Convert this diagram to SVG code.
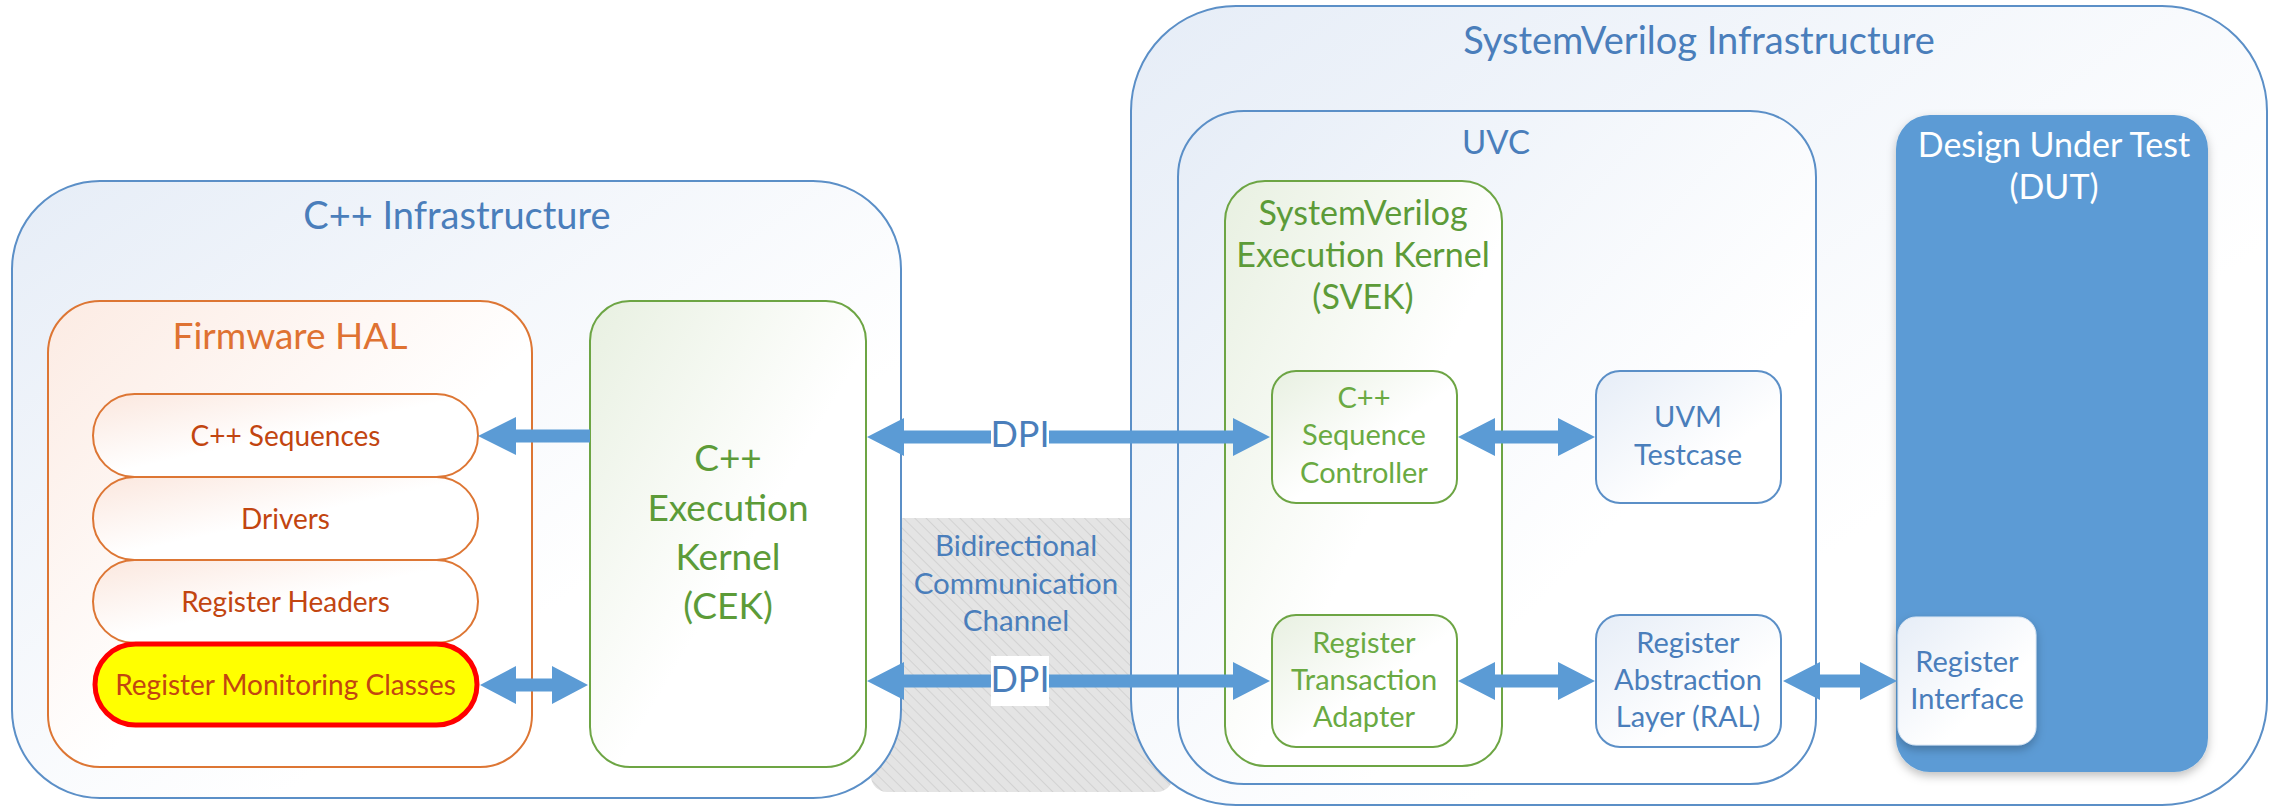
<svg xmlns="http://www.w3.org/2000/svg" width="2270" height="809" viewBox="0 0 2270 809">
<defs>
<linearGradient id="gBlue" x1="0" y1="0" x2="1" y2="1"><stop offset="0" stop-color="#E6EDF7"/><stop offset="0.65" stop-color="#FFFFFF"/></linearGradient>
<linearGradient id="gOrange" x1="0" y1="0" x2="1" y2="1"><stop offset="0" stop-color="#FCEBE3"/><stop offset="0.55" stop-color="#FFFFFF"/></linearGradient>
<linearGradient id="gGreen" x1="0" y1="0" x2="1" y2="1"><stop offset="0" stop-color="#E8F0E1"/><stop offset="0.55" stop-color="#FFFFFF"/></linearGradient>
<linearGradient id="gPill" x1="0" y1="0" x2="1" y2="1"><stop offset="0" stop-color="#FBE7DE"/><stop offset="0.5" stop-color="#FFFFFF"/></linearGradient>
<pattern id="hatch" width="8" height="8" patternUnits="userSpaceOnUse" patternTransform="rotate(-45)">
<rect width="8" height="8" fill="#E4E4E4"/><line x1="0" y1="0" x2="0" y2="8" stroke="#D2D2D2" stroke-width="2"/>
</pattern>
<filter id="shadow" x="-10%" y="-10%" width="130%" height="130%"><feDropShadow dx="0" dy="4" stdDeviation="5" flood-color="#000" flood-opacity="0.25"/></filter>
<style>
text{font-family:Lato,"Liberation Sans",sans-serif;text-anchor:middle}
.t-title{font-size:38px;fill:#4A7EBB}
.t-blue{fill:#4A7EBB}
.t-green{fill:#5C9B38}
.t-lgreen{fill:#6AAA42}
.t-orange{fill:#C24510}
.outer{fill:url(#gBlue);stroke:#5B8FC7;stroke-width:2}
.gbox{fill:url(#gGreen);stroke:#6DA544;stroke-width:2}
.bbox{fill:url(#gBlue);stroke:#5B8FC7;stroke-width:2}
.pill{fill:url(#gPill);stroke:#DD7634;stroke-width:2}
.arrow{fill:#5B9BD5}
</style>
</defs>
<rect width="2270" height="809" fill="#FFFFFF"/>

<g id="channel">
<rect x="871" y="518" width="302" height="274" rx="16" fill="url(#hatch)"/>
</g>

<g id="cpp-infra">
<rect class="outer" x="12" y="181" width="889" height="617" rx="88"/>
<text class="t-title" x="457" y="229">C++ Infrastructure</text>
</g>

<g id="sv-infra">
<rect class="outer" x="1131" y="6" width="1136" height="799" rx="105"/>
<text class="t-title" x="1699" y="54">SystemVerilog Infrastructure</text>
</g>

<g id="firmware-hal">
<rect x="48" y="301" width="484" height="466" rx="52" fill="url(#gOrange)" stroke="#DD7634" stroke-width="2"/>
<text x="290" y="349" style="font-size:37px;fill:#DF7232">Firmware HAL</text>
</g>

<g id="cpp-sequences">
<rect class="pill" x="93" y="394" width="385" height="83" rx="41.5"/>
<text class="t-orange" x="285.5" y="445.5" style="font-size:28px">C++ Sequences</text>
</g>
<g id="drivers">
<rect class="pill" x="93" y="477" width="385" height="83" rx="41.5"/>
<text class="t-orange" x="285.5" y="528.5" style="font-size:28px">Drivers</text>
</g>
<g id="register-headers">
<rect class="pill" x="93" y="560" width="385" height="83" rx="41.5"/>
<text class="t-orange" x="285.5" y="611.5" style="font-size:28px">Register Headers</text>
</g>
<g id="register-monitoring">
<rect x="95" y="644" width="382" height="81" rx="40.5" fill="#FFFF00" stroke="#FF0000" stroke-width="5"/>
<text class="t-orange" x="285.5" y="695" style="font-size:28px">Register Monitoring Classes</text>
</g>

<g id="cek">
<rect class="gbox" x="590" y="301" width="276" height="466" rx="40"/>
<text class="t-green" style="font-size:37px"><tspan x="728" y="471">C++</tspan><tspan x="728" y="521">Execution</tspan><tspan x="728" y="570">Kernel</tspan><tspan x="728" y="619">(CEK)</tspan></text>
</g>

<g id="uvc">
<rect class="bbox" x="1178" y="111" width="638" height="673" rx="66"/>
<text class="t-blue" x="1496" y="154" style="font-size:33px">UVC</text>
</g>

<g id="svek">
<rect class="gbox" x="1225" y="181" width="277" height="585" rx="40"/>
<text class="t-green" style="font-size:34px"><tspan x="1363" y="225">SystemVerilog</tspan><tspan x="1363" y="267">Execution Kernel</tspan><tspan x="1363" y="309">(SVEK)</tspan></text>
</g>

<g id="dut">
<rect x="1896" y="115" width="312" height="657" rx="34" fill="#5B9BD5" filter="url(#shadow)"/>
<text x="2054" y="157" style="font-size:34px;fill:#FFFFFF">Design Under Test</text>
<text x="2054" y="199" style="font-size:34px;fill:#FFFFFF">(DUT)</text>
</g>

<g id="seq-controller">
<rect class="gbox" x="1272" y="371" width="185" height="132" rx="24"/>
<text class="t-lgreen" style="font-size:29px"><tspan x="1364" y="408">C++</tspan><tspan x="1364" y="445">Sequence</tspan><tspan x="1364" y="483">Controller</tspan></text>
</g>

<g id="uvm-testcase">
<rect class="bbox" x="1596" y="371" width="185" height="132" rx="24"/>
<text class="t-blue" style="font-size:29px"><tspan x="1688" y="427">UVM</tspan><tspan x="1688" y="465">Testcase</tspan></text>
</g>

<g id="reg-adapter">
<rect class="gbox" x="1272" y="615" width="185" height="132" rx="24"/>
<text class="t-lgreen" style="font-size:29px"><tspan x="1364" y="653">Register</tspan><tspan x="1364" y="690">Transaction</tspan><tspan x="1364" y="727">Adapter</tspan></text>
</g>

<g id="ral">
<rect class="bbox" x="1596" y="615" width="185" height="132" rx="24"/>
<text class="t-blue" style="font-size:29px"><tspan x="1688" y="653">Register</tspan><tspan x="1688" y="690">Abstraction</tspan><tspan x="1688" y="727">Layer (RAL)</tspan></text>
</g>

<g id="reg-interface">
<rect x="1898" y="617" width="138" height="128" rx="18" fill="url(#gBlue)" stroke="#DCE6F2" stroke-width="1" filter="url(#shadow)"/>
<text class="t-blue" style="font-size:29px"><tspan x="1967" y="672">Register</tspan><tspan x="1967" y="709">Interface</tspan></text>
</g>

<g id="connectors">
<polygon class="arrow" points="478,436 516,417 516,429.5 590,429.5 590,442.5 516,442.5 516,455"/>
<polygon class="arrow" points="480,685 516,666 516,678.5 552,678.5 552,666 588,685 552,704 552,691.5 516,691.5 516,704"/>
<polygon class="arrow" points="867,437 904,418 904,430.5 1233,430.5 1233,418 1270,437 1233,456 1233,443.5 904,443.5 904,456"/>
<polygon class="arrow" points="867,681 904,662 904,674.5 1233,674.5 1233,662 1270,681 1233,700 1233,687.5 904,687.5 904,700"/>
<polygon class="arrow" points="1458,437 1495,418 1495,430.5 1558,430.5 1558,418 1595,437 1558,456 1558,443.5 1495,443.5 1495,456"/>
<polygon class="arrow" points="1458,681 1495,662 1495,674.5 1558,674.5 1558,662 1595,681 1558,700 1558,687.5 1495,687.5 1495,700"/>
<polygon class="arrow" points="1783,681 1820,662 1820,674.5 1860,674.5 1860,662 1897,681 1860,700 1860,687.5 1820,687.5 1820,700"/>
<rect x="991" y="414" width="58" height="46" fill="#FFFFFF"/>
<rect x="991" y="656" width="58" height="50" fill="#FFFFFF"/>
<text class="t-blue" x="1020" y="447" style="font-size:36px">DPI</text>
<text class="t-blue" x="1020" y="692" style="font-size:36px">DPI</text>
</g>

<g id="channel-label">
<text class="t-blue" style="font-size:29.5px"><tspan x="1016" y="556">Bidirectional</tspan><tspan x="1016" y="594">Communication</tspan><tspan x="1016" y="631">Channel</tspan></text>
</g>
</svg>
